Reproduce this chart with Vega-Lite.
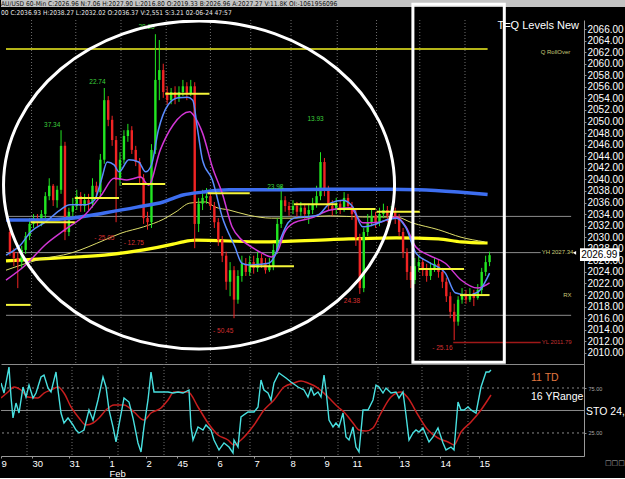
{
"$schema":"https://vega.github.io/schema/vega-lite/v6.json",
"background":"#000000",
"padding":0,
"autosize":{"type":"pad"},
"bounds":"flush",
"spacing":0,
"config":{"view":{"stroke":null},"axis":{"grid":false,"labelOverlap":false,"labelFont":"Liberation Sans","labelColor":"#ffffff","domainColor":"#8a8a8a","tickColor":"#8a8a8a"},"text":{"font":"Liberation Sans"}},
"datasets":{
"candles":[
{"t":1,"o":2030.9,"h":2031.6,"l":2026.8,"c":2027.4},
{"t":2,"o":2027.4,"h":2028.1,"l":2025.0,"c":2026.4},
{"t":3,"o":2026.4,"h":2027.4,"l":2021.2,"c":2025.7},
{"t":4,"o":2025.7,"h":2028.5,"l":2024.7,"c":2027.8},
{"t":5,"o":2027.8,"h":2030.9,"l":2027.1,"c":2030.2},
{"t":6,"o":2030.2,"h":2033.3,"l":2029.5,"c":2032.3},
{"t":7,"o":2032.3,"h":2034.0,"l":2031.6,"c":2033.3},
{"t":8,"o":2033.3,"h":2034.0,"l":2031.9,"c":2032.6},
{"t":9,"o":2032.6,"h":2034.7,"l":2031.9,"c":2034.0},
{"t":10,"o":2034.0,"h":2037.8,"l":2033.3,"c":2037.1},
{"t":11,"o":2037.1,"h":2040.2,"l":2036.4,"c":2038.9},
{"t":12,"o":2038.9,"h":2039.2,"l":2035.4,"c":2036.4},
{"t":13,"o":2036.4,"h":2038.9,"l":2035.1,"c":2038.2},
{"t":14,"o":2038.2,"h":2048.5,"l":2037.5,"c":2045.8},
{"t":15,"o":2045.8,"h":2046.5,"l":2029.5,"c":2030.9},
{"t":16,"o":2030.9,"h":2035.1,"l":2030.2,"c":2034.4},
{"t":17,"o":2034.4,"h":2036.8,"l":2033.3,"c":2035.4},
{"t":18,"o":2035.4,"h":2038.2,"l":2034.7,"c":2037.1},
{"t":19,"o":2037.1,"h":2037.8,"l":2034.4,"c":2035.4},
{"t":20,"o":2035.4,"h":2037.5,"l":2034.4,"c":2036.4},
{"t":21,"o":2036.4,"h":2037.5,"l":2034.7,"c":2035.8},
{"t":22,"o":2035.8,"h":2040.2,"l":2035.1,"c":2038.9},
{"t":23,"o":2038.9,"h":2039.6,"l":2036.8,"c":2037.8},
{"t":24,"o":2037.8,"h":2044.4,"l":2037.1,"c":2043.4},
{"t":25,"o":2043.4,"h":2055.8,"l":2042.7,"c":2053.7},
{"t":26,"o":2053.7,"h":2054.4,"l":2049.2,"c":2050.3},
{"t":27,"o":2050.3,"h":2051.0,"l":2045.8,"c":2046.8},
{"t":28,"o":2046.8,"h":2047.5,"l":2032.6,"c":2039.9},
{"t":29,"o":2039.9,"h":2044.7,"l":2038.9,"c":2043.4},
{"t":30,"o":2043.4,"h":2048.5,"l":2042.7,"c":2047.5},
{"t":31,"o":2047.5,"h":2049.6,"l":2046.5,"c":2048.5},
{"t":32,"o":2048.5,"h":2049.2,"l":2044.4,"c":2045.1},
{"t":33,"o":2045.1,"h":2045.8,"l":2042.3,"c":2043.0},
{"t":34,"o":2043.0,"h":2043.7,"l":2039.2,"c":2040.2},
{"t":35,"o":2040.2,"h":2040.9,"l":2032.3,"c":2033.3},
{"t":36,"o":2033.3,"h":2034.4,"l":2031.3,"c":2032.6},
{"t":37,"o":2032.6,"h":2046.1,"l":2031.6,"c":2045.1},
{"t":38,"o":2045.1,"h":2065.1,"l":2044.4,"c":2057.2},
{"t":39,"o":2057.2,"h":2064.1,"l":2053.7,"c":2058.9},
{"t":40,"o":2058.9,"h":2060.0,"l":2054.1,"c":2055.1},
{"t":41,"o":2055.1,"h":2056.1,"l":2053.0,"c":2053.7},
{"t":42,"o":2053.7,"h":2055.8,"l":2053.0,"c":2055.1},
{"t":43,"o":2055.1,"h":2056.1,"l":2053.0,"c":2054.1},
{"t":44,"o":2054.1,"h":2056.1,"l":2053.4,"c":2055.1},
{"t":45,"o":2055.1,"h":2057.2,"l":2054.4,"c":2056.1},
{"t":46,"o":2056.1,"h":2056.8,"l":2053.7,"c":2054.8},
{"t":47,"o":2054.8,"h":2057.2,"l":2054.4,"c":2056.1},
{"t":48,"o":2056.1,"h":2056.8,"l":2028.1,"c":2032.3},
{"t":49,"o":2032.3,"h":2036.8,"l":2030.9,"c":2035.8},
{"t":50,"o":2035.8,"h":2038.2,"l":2034.7,"c":2036.8},
{"t":51,"o":2036.8,"h":2038.5,"l":2035.8,"c":2037.1},
{"t":52,"o":2037.1,"h":2037.8,"l":2034.7,"c":2035.4},
{"t":53,"o":2035.4,"h":2036.1,"l":2031.6,"c":2032.6},
{"t":54,"o":2032.6,"h":2033.3,"l":2028.5,"c":2029.5},
{"t":55,"o":2029.5,"h":2030.2,"l":2025.7,"c":2026.8},
{"t":56,"o":2026.8,"h":2027.5,"l":2020.9,"c":2022.3},
{"t":57,"o":2022.3,"h":2025.7,"l":2019.8,"c":2024.3},
{"t":58,"o":2024.3,"h":2025.0,"l":2016.0,"c":2019.2},
{"t":59,"o":2019.2,"h":2024.3,"l":2018.5,"c":2023.3},
{"t":60,"o":2023.3,"h":2026.8,"l":2022.3,"c":2025.4},
{"t":61,"o":2025.4,"h":2026.4,"l":2023.3,"c":2024.0},
{"t":62,"o":2024.0,"h":2026.8,"l":2023.3,"c":2025.7},
{"t":63,"o":2025.7,"h":2026.8,"l":2023.7,"c":2024.7},
{"t":64,"o":2024.7,"h":2027.5,"l":2024.0,"c":2026.4},
{"t":65,"o":2026.4,"h":2027.1,"l":2024.7,"c":2025.4},
{"t":66,"o":2025.4,"h":2026.4,"l":2023.7,"c":2024.3},
{"t":67,"o":2024.3,"h":2026.4,"l":2024.0,"c":2025.0},
{"t":68,"o":2025.0,"h":2028.8,"l":2024.3,"c":2027.8},
{"t":69,"o":2027.8,"h":2033.3,"l":2027.1,"c":2032.3},
{"t":70,"o":2032.3,"h":2038.9,"l":2031.6,"c":2036.4},
{"t":71,"o":2036.4,"h":2037.1,"l":2034.4,"c":2035.4},
{"t":72,"o":2035.4,"h":2036.1,"l":2033.7,"c":2034.7},
{"t":73,"o":2034.7,"h":2036.4,"l":2034.0,"c":2035.4},
{"t":74,"o":2035.4,"h":2036.1,"l":2033.3,"c":2034.4},
{"t":75,"o":2034.4,"h":2036.1,"l":2033.7,"c":2035.1},
{"t":76,"o":2035.1,"h":2035.8,"l":2033.0,"c":2034.0},
{"t":77,"o":2034.0,"h":2035.8,"l":2032.3,"c":2034.7},
{"t":78,"o":2034.7,"h":2036.8,"l":2034.0,"c":2035.8},
{"t":79,"o":2035.8,"h":2038.9,"l":2035.1,"c":2037.1},
{"t":80,"o":2037.1,"h":2044.7,"l":2036.4,"c":2043.0},
{"t":81,"o":2043.0,"h":2043.7,"l":2037.1,"c":2038.2},
{"t":82,"o":2038.2,"h":2038.9,"l":2034.7,"c":2035.4},
{"t":83,"o":2035.4,"h":2036.4,"l":2033.7,"c":2034.7},
{"t":84,"o":2034.7,"h":2036.8,"l":2034.0,"c":2035.8},
{"t":85,"o":2035.8,"h":2036.4,"l":2034.0,"c":2034.7},
{"t":86,"o":2034.7,"h":2037.8,"l":2034.4,"c":2036.8},
{"t":87,"o":2036.8,"h":2037.5,"l":2034.7,"c":2035.4},
{"t":88,"o":2035.4,"h":2036.1,"l":2033.0,"c":2034.0},
{"t":89,"o":2034.0,"h":2034.7,"l":2028.5,"c":2029.9},
{"t":90,"o":2029.9,"h":2030.6,"l":2020.2,"c":2021.2},
{"t":91,"o":2021.2,"h":2031.6,"l":2020.5,"c":2030.9},
{"t":92,"o":2030.9,"h":2034.0,"l":2030.2,"c":2032.6},
{"t":93,"o":2032.6,"h":2034.7,"l":2031.9,"c":2033.7},
{"t":94,"o":2033.7,"h":2034.4,"l":2031.6,"c":2032.6},
{"t":95,"o":2032.6,"h":2035.1,"l":2031.9,"c":2034.0},
{"t":96,"o":2034.0,"h":2035.8,"l":2033.3,"c":2034.7},
{"t":97,"o":2034.7,"h":2035.4,"l":2032.6,"c":2033.7},
{"t":98,"o":2033.7,"h":2035.4,"l":2033.0,"c":2034.4},
{"t":99,"o":2034.4,"h":2035.1,"l":2032.3,"c":2033.3},
{"t":100,"o":2033.3,"h":2034.0,"l":2030.2,"c":2030.9},
{"t":101,"o":2030.9,"h":2031.6,"l":2026.4,"c":2027.4},
{"t":102,"o":2027.4,"h":2028.1,"l":2022.6,"c":2024.0},
{"t":103,"o":2024.0,"h":2025.0,"l":2021.2,"c":2022.6},
{"t":104,"o":2022.6,"h":2026.4,"l":2021.9,"c":2025.0},
{"t":105,"o":2025.0,"h":2026.8,"l":2024.0,"c":2025.7},
{"t":106,"o":2025.7,"h":2026.4,"l":2023.3,"c":2024.3},
{"t":107,"o":2024.3,"h":2025.4,"l":2022.3,"c":2023.3},
{"t":108,"o":2023.3,"h":2025.7,"l":2022.6,"c":2024.7},
{"t":109,"o":2024.7,"h":2026.4,"l":2024.0,"c":2025.4},
{"t":110,"o":2025.4,"h":2026.1,"l":2023.0,"c":2024.0},
{"t":111,"o":2024.0,"h":2024.7,"l":2021.2,"c":2022.3},
{"t":112,"o":2022.3,"h":2023.0,"l":2018.8,"c":2019.8},
{"t":113,"o":2019.8,"h":2020.5,"l":2016.0,"c":2017.1},
{"t":114,"o":2017.1,"h":2018.5,"l":2012.2,"c":2015.4},
{"t":115,"o":2015.4,"h":2019.8,"l":2014.7,"c":2019.2},
{"t":116,"o":2019.2,"h":2021.2,"l":2018.5,"c":2020.2},
{"t":117,"o":2020.2,"h":2020.9,"l":2018.5,"c":2019.2},
{"t":118,"o":2019.2,"h":2021.2,"l":2018.8,"c":2020.2},
{"t":119,"o":2020.2,"h":2020.9,"l":2018.1,"c":2019.5},
{"t":120,"o":2019.5,"h":2021.9,"l":2019.2,"c":2020.9},
{"t":121,"o":2020.9,"h":2024.7,"l":2020.2,"c":2024.0},
{"t":122,"o":2024.0,"h":2026.8,"l":2023.3,"c":2025.7},
{"t":123,"o":2025.7,"h":2027.5,"l":2025.0,"c":2026.9}
],
"thickblue":[{"t":0,"v":2033.0},{"t":8.3,"v":2033.0},{"t":16.7,"v":2033.3},{"t":25,"v":2034.2},{"t":33.3,"v":2035.2},{"t":40,"v":2036.1},{"t":45,"v":2037.3},{"t":50,"v":2037.8},{"t":56.75,"v":2038.2},{"t":67.5,"v":2038.2},{"t":82.5,"v":2038.3},{"t":97.5,"v":2038.3},{"t":105,"v":2038.2},{"t":115,"v":2037.8},{"t":122.5,"v":2037.4}],
"thickyellow":[{"t":0,"v":2025.9},{"t":12.5,"v":2026.4},{"t":25,"v":2026.9},{"t":35,"v":2027.8},{"t":42.5,"v":2028.8},{"t":45,"v":2029.2},{"t":48.25,"v":2029.5},{"t":65,"v":2029.2},{"t":82.5,"v":2029.6},{"t":99.25,"v":2029.9},{"t":110,"v":2029.7},{"t":115.75,"v":2029.2},{"t":122.5,"v":2029.0}],
"paleyellow":[{"t":0,"v":2024.3},{"t":8.25,"v":2026.1},{"t":16.75,"v":2027.3},{"t":25,"v":2029.5},{"t":29.25,"v":2030.7},{"t":35,"v":2031.8},{"t":40,"v":2033.1},{"t":43.25,"v":2034.4},{"t":46.75,"v":2035.9},{"t":50.75,"v":2036.1},{"t":53.25,"v":2035.2},{"t":56.75,"v":2034.7},{"t":61.75,"v":2033.8},{"t":67.5,"v":2033.3},{"t":72.5,"v":2033.3},{"t":82.5,"v":2033.7},{"t":90.75,"v":2033.5},{"t":99.25,"v":2033.5},{"t":103.25,"v":2032.5},{"t":110,"v":2031.3},{"t":115.75,"v":2030.0},{"t":121.75,"v":2029.2}],
"thinblue":[{"t":0,"v":2026.9},{"t":3.75,"v":2028.7},{"t":6.25,"v":2030.9},{"t":10,"v":2032.6},{"t":13.75,"v":2034.7},{"t":16.25,"v":2035.6},{"t":20,"v":2035.6},{"t":22.5,"v":2036.4},{"t":24.25,"v":2039.9},{"t":25.75,"v":2043.0},{"t":27.5,"v":2042.5},{"t":28.75,"v":2041.3},{"t":31.25,"v":2043.4},{"t":33.75,"v":2043.0},{"t":35.5,"v":2041.3},{"t":37,"v":2042.5},{"t":38.75,"v":2048.5},{"t":41.25,"v":2052.9},{"t":43.75,"v":2054.1},{"t":46.25,"v":2054.2},{"t":47.5,"v":2053.7},{"t":48.75,"v":2048.5},{"t":50,"v":2043.3},{"t":52.5,"v":2039.9},{"t":55,"v":2033.5},{"t":58.25,"v":2028.3},{"t":60,"v":2025.5},{"t":61.75,"v":2025.2},{"t":66.75,"v":2025.5},{"t":68.25,"v":2026.6},{"t":70,"v":2030.0},{"t":71.75,"v":2032.5},{"t":73.25,"v":2033.3},{"t":79.25,"v":2033.8},{"t":82.5,"v":2035.9},{"t":85.75,"v":2036.4},{"t":88.25,"v":2035.2},{"t":90.75,"v":2031.8},{"t":93.25,"v":2032.1},{"t":96.75,"v":2033.0},{"t":99.25,"v":2033.3},{"t":101.75,"v":2031.6},{"t":104.25,"v":2027.3},{"t":107.5,"v":2025.7},{"t":111.75,"v":2023.8},{"t":114.25,"v":2020.4},{"t":117.5,"v":2020.0},{"t":120,"v":2020.5},{"t":123,"v":2023.8}],
"magenta":[{"t":0,"v":2022.6},{"t":5,"v":2025.2},{"t":10,"v":2028.7},{"t":15,"v":2031.3},{"t":20,"v":2033.8},{"t":24.25,"v":2037.3},{"t":27.5,"v":2040.2},{"t":30.75,"v":2039.9},{"t":34.25,"v":2040.4},{"t":36.25,"v":2039.0},{"t":39.25,"v":2045.1},{"t":42.5,"v":2049.4},{"t":46.75,"v":2051.7},{"t":48,"v":2050.8},{"t":50,"v":2048.0},{"t":52.5,"v":2042.1},{"t":55,"v":2037.6},{"t":57.5,"v":2031.8},{"t":60,"v":2029.5},{"t":62.5,"v":2028.3},{"t":65,"v":2027.3},{"t":67.5,"v":2026.6},{"t":69.25,"v":2027.8},{"t":70.75,"v":2030.7},{"t":73.25,"v":2032.5},{"t":77.5,"v":2033.3},{"t":82.5,"v":2034.7},{"t":87.5,"v":2035.1},{"t":90.75,"v":2032.5},{"t":95,"v":2032.6},{"t":99.25,"v":2033.5},{"t":101.75,"v":2031.8},{"t":104.25,"v":2028.3},{"t":107.5,"v":2026.9},{"t":111.75,"v":2025.5},{"t":115.75,"v":2022.6},{"t":120,"v":2021.2},{"t":123,"v":2022.1}],
"grid":[{"t":6.5},{"t":17.75},{"t":29.25},{"t":40.75},{"t":52},{"t":62.25},{"t":72.5},{"t":84.25},{"t":94.25},{"t":105.25},{"t":116.75}],
"levels":[{"t1":0,"t2":143.75,"p":2033.6},{"t1":0,"t2":136,"p":2027.34},{"t1":0,"t2":143.75,"p":2016.5}],
"keylev":[{"t1":0,"t2":122.5,"p":2062.54,"k":"q"},{"t1":113.75,"t2":136,"p":2011.79,"k":"yl"}],
"pivots":[{"t1":0,"t2":6.25,"p":2018.3},{"t1":6.25,"t2":17.5,"p":2032.6},{"t1":17.5,"t2":28.75,"p":2036.8},{"t1":29.5,"t2":40.5,"p":2039.2},{"t1":40.5,"t2":51.75,"p":2054.8},{"t1":51.25,"t2":62,"p":2037.6},{"t1":62,"t2":73.25,"p":2025.0},{"t1":73.25,"t2":84.25,"p":2035.7},{"t1":84.25,"t2":94,"p":2034.9},{"t1":94.25,"t2":105.25,"p":2034.4},{"t1":105,"t2":116.5,"p":2024.5},{"t1":115.5,"t2":123,"p":2020.0}],
"gnotes":[{"t":11.75,"p":2049.4,"txt":"37.34"},{"t":23.25,"p":2056.8,"txt":"22.74"},{"t":35.75,"p":2066.3,"txt":"28.25"},{"t":68.5,"p":2038.7,"txt":"23.98"},{"t":78.75,"p":2050.4,"txt":"13.93"}],
"rnotes":[{"t":25,"p":2029.9,"txt":"- 25.05"},{"t":32.5,"p":2029.0,"txt":"- 12.75"},{"t":55.25,"p":2013.8,"txt":"- 50.45"},{"t":88,"p":2019.0,"txt":"24.38"},{"t":111,"p":2010.9,"txt":"- 25.16"}],
"rlabels":[{"t":136,"p":2062.0,"txt":"Q RollOver","k":"y"},{"t":136.25,"p":2027.45,"txt":"YH 2027.34","k":"y"},{"t":141.75,"p":2020.0,"txt":"RX","k":"y"},{"t":136.25,"p":2011.9,"txt":"YL 2011.79","k":"r"}],
"cyan":[{"t":0,"v":80.6},{"t":0.75,"v":69.4},{"t":2,"v":98.3},{"t":2.5,"v":65},{"t":3,"v":41.7},{"t":3.75,"v":58.3},{"t":4.5,"v":47.2},{"t":5.5,"v":76.1},{"t":6.25,"v":65},{"t":7,"v":78.3},{"t":8,"v":63.9},{"t":8.75,"v":69.4},{"t":10,"v":87.2},{"t":10.75,"v":89.4},{"t":11.75,"v":75},{"t":12.5,"v":70.6},{"t":13.75,"v":92.8},{"t":14.25,"v":72.8},{"t":15,"v":47.2},{"t":15.75,"v":36.1},{"t":16.75,"v":41.7},{"t":18,"v":33.9},{"t":18.75,"v":28.3},{"t":19.5,"v":25},{"t":20.75,"v":28.3},{"t":22,"v":50.6},{"t":23,"v":39.4},{"t":24.25,"v":61.7},{"t":25.5,"v":87.2},{"t":26.25,"v":76.1},{"t":27,"v":50.6},{"t":28,"v":31.7},{"t":28.75,"v":15},{"t":29.5,"v":33.9},{"t":30.75,"v":63.9},{"t":32,"v":59.4},{"t":33,"v":41.7},{"t":34.25,"v":13.9},{"t":35,"v":3.9},{"t":35.75,"v":31.7},{"t":36.75,"v":61.7},{"t":37.5,"v":92.8},{"t":38.25,"v":70.6},{"t":40,"v":70.6},{"t":41.75,"v":70.6},{"t":43,"v":69.4},{"t":44.25,"v":70.6},{"t":45.5,"v":69.4},{"t":47,"v":72.8},{"t":47.5,"v":31.7},{"t":48,"v":17.2},{"t":49.25,"v":31.7},{"t":50.5,"v":28.3},{"t":51.25,"v":33.9},{"t":52.5,"v":28.3},{"t":53.25,"v":17.2},{"t":54.5,"v":6.1},{"t":55.75,"v":13.9},{"t":57,"v":9.4},{"t":58,"v":2.8},{"t":58.25,"v":17.2},{"t":59.25,"v":9.4},{"t":60,"v":42.8},{"t":61.75,"v":48.3},{"t":63.25,"v":48.3},{"t":64.25,"v":53.9},{"t":65,"v":83.9},{"t":65.75,"v":72.8},{"t":66.75,"v":69.4},{"t":67.5,"v":61.7},{"t":68.25,"v":80.6},{"t":69.5,"v":91.7},{"t":71.25,"v":86.1},{"t":72.5,"v":81.7},{"t":74.25,"v":76.1},{"t":75.75,"v":72.8},{"t":76.75,"v":65},{"t":77.5,"v":75},{"t":78.25,"v":67.2},{"t":79.25,"v":70.6},{"t":80,"v":65},{"t":80.75,"v":89.4},{"t":81.25,"v":72.8},{"t":82,"v":39.4},{"t":83,"v":31.7},{"t":83.75,"v":36.1},{"t":84.5,"v":31.7},{"t":85.5,"v":47.2},{"t":86.25,"v":20.6},{"t":87,"v":17.2},{"t":88,"v":31.7},{"t":88.75,"v":9.4},{"t":89.5,"v":3.9},{"t":90.5,"v":50.6},{"t":91.75,"v":50.6},{"t":93,"v":61.7},{"t":93.75,"v":78.3},{"t":94.5,"v":76.1},{"t":95.5,"v":69.4},{"t":96.25,"v":75},{"t":97.5,"v":69.4},{"t":98.75,"v":70.6},{"t":99.5,"v":63.9},{"t":100.5,"v":70.6},{"t":101.25,"v":45},{"t":102,"v":17.2},{"t":103,"v":25},{"t":103.75,"v":28.3},{"t":104.5,"v":26.1},{"t":105.5,"v":30.6},{"t":106.25,"v":22.8},{"t":107,"v":15},{"t":108,"v":20.6},{"t":109.25,"v":30.6},{"t":110.5,"v":13.9},{"t":111.25,"v":6.1},{"t":112.5,"v":9.4},{"t":113.25,"v":6.1},{"t":114.25,"v":59.4},{"t":115,"v":50.6},{"t":115.75,"v":50.6},{"t":116.75,"v":53.9},{"t":117.5,"v":50.6},{"t":118.75,"v":47.2},{"t":120,"v":76.1},{"t":121.25,"v":92.8},{"t":122,"v":92.8},{"t":122.5,"v":95}],
"slow":[{"t":0,"v":63.9},{"t":1.75,"v":70.6},{"t":3.25,"v":76.1},{"t":5,"v":72.8},{"t":6.75,"v":65},{"t":9.25,"v":63.9},{"t":10.75,"v":69.4},{"t":12.5,"v":72.8},{"t":14.25,"v":76.1},{"t":15.75,"v":69.4},{"t":17.5,"v":53.9},{"t":19.5,"v":41.7},{"t":21.25,"v":33.9},{"t":23,"v":36.1},{"t":24.5,"v":41.7},{"t":26.25,"v":50.6},{"t":28.25,"v":56.1},{"t":30.75,"v":56.1},{"t":33.25,"v":48.3},{"t":35.75,"v":39.4},{"t":37.5,"v":47.2},{"t":40,"v":52.8},{"t":41.75,"v":61.7},{"t":43.25,"v":70.6},{"t":46.75,"v":70.6},{"t":49.25,"v":53.9},{"t":51.75,"v":36.1},{"t":54.25,"v":22.8},{"t":56.75,"v":17.2},{"t":58.25,"v":11.7},{"t":60,"v":17.2},{"t":63.25,"v":33.9},{"t":65.75,"v":50.6},{"t":68.25,"v":61.7},{"t":70.75,"v":76.1},{"t":73.25,"v":80.6},{"t":75,"v":82.8},{"t":76.75,"v":80.6},{"t":79.25,"v":75},{"t":81.75,"v":65},{"t":84.25,"v":53.9},{"t":85.75,"v":48.3},{"t":88,"v":36.1},{"t":89.5,"v":28.3},{"t":91.25,"v":27.2},{"t":93,"v":30.6},{"t":95,"v":47.2},{"t":97.5,"v":65},{"t":100,"v":70.6},{"t":101.75,"v":63.9},{"t":104.25,"v":45},{"t":106.75,"v":28.3},{"t":109.25,"v":19.4},{"t":111.75,"v":15},{"t":113.25,"v":11.7},{"t":115,"v":26.1},{"t":117.5,"v":37.2},{"t":120,"v":50.6},{"t":122.5,"v":67.2}],
"stotxt":[{"t":132.5,"v":86,"txt":"11 TD","k":"o"},{"t":132.5,"v":65,"txt":"16 YRange","k":"w"},{"t":146.25,"v":48.3,"txt":"STO 24,","k":"w"}]
},
"vconcat":[
{
"width":625,"height":20,
"data":{"values":[{"row":0.42,"txt":"AU/USD 60-Min C:2026.96 N:7.06 H:2027.90 L:2016.80 O:2019.33 B:2026.96 A:2027.27 V:11.8K OI:-1061956096"},{"row":1.5,"txt":"00 C:2036.93 H:2038.27 L:2032.02 O:2036.37 V:2,551 S:3.21 02-06-24 47:57"}]},
"layer":[
{"mark":{"type":"rect","color":"#c4c4c4"},
 "encoding":{"x":{"datum":0,"type":"quantitative","scale":{"domain":[0,100],"nice":false},"axis":null},"x2":{"datum":100},"y":{"datum":0,"type":"quantitative","scale":{"domain":[0,2.25],"reverse":true,"nice":false},"axis":null},"y2":{"datum":0.8}}},
{"mark":{"type":"text","align":"left","baseline":"middle","font":"Liberation Sans Narrow, DejaVu Sans Condensed, Liberation Sans","fontSize":6.6,"dx":0},
 "encoding":{"x":{"datum":0,"type":"quantitative","axis":null},"y":{"field":"row","type":"quantitative","axis":null},"text":{"field":"txt"},
  "color":{"condition":{"test":"datum.row < 1","value":"#101010"},"value":"#e8e8e8"}}}
]
},
{
"width":583,"height":344,
"layer":[
{"data":{"name":"grid"},"mark":{"type":"rule","color":"#6e6e6e","strokeDash":[1,2]},
 "encoding":{"x":{"field":"t","type":"quantitative","scale":{"domain":[0,145.75],"nice":false,"zero":false},"axis":{"orient":"bottom","labels":false,"ticks":false,"title":null,"domainColor":"#8a8a8a"}}}},
{"data":{"name":"levels"},"mark":{"type":"rule","color":"#8c8c8c","strokeWidth":1,"clip":true},
 "encoding":{"x":{"field":"t1","type":"quantitative","scale":{"domain":[0,145.75],"nice":false,"zero":false}},"x2":{"field":"t2"},
  "y":{"field":"p","type":"quantitative","scale":{"domain":[2008.08,2067.56],"nice":false,"zero":false},
   "axis":{"orient":"right","values":[2010,2012,2014,2016,2018,2020,2022,2024,2026,2028,2030,2032,2034,2036,2038,2040,2042,2044,2046,2048,2050,2052,2054,2056,2058,2060,2062,2064,2066],"tickCount":100,"format":".2f","labelFontSize":10,"tickSize":2,"labelPadding":1,"title":null,"domainColor":"#9a9a9a","labelOverlap":false,"labelFlush":false,"labelBound":false}}}},
{"data":{"name":"keylev"},"mark":{"type":"rule","strokeWidth":1.5,"clip":true},
 "encoding":{"x":{"field":"t1","type":"quantitative"},"x2":{"field":"t2"},"y":{"field":"p","type":"quantitative"},
  "color":{"condition":{"test":"datum.k == 'q'","value":"#f0f020"},"value":"#a01818"}}},
{"data":{"name":"thickyellow"},"mark":{"type":"line","color":"#ffff1a","strokeWidth":3.2,"interpolate":"monotone","clip":true},
 "encoding":{"x":{"field":"t","type":"quantitative"},"y":{"field":"v","type":"quantitative"}}},
{"data":{"name":"paleyellow"},"mark":{"type":"line","color":"#dede6a","strokeWidth":1,"interpolate":"monotone","clip":true},
 "encoding":{"x":{"field":"t","type":"quantitative"},"y":{"field":"v","type":"quantitative"}}},
{"data":{"name":"candles"},"mark":{"type":"rule","strokeWidth":1,"clip":true},
 "encoding":{"x":{"field":"t","type":"quantitative"},"y":{"field":"l","type":"quantitative"},"y2":{"field":"h"},
  "color":{"condition":{"test":"datum.c >= datum.o","value":"#22e622"},"value":"#f02424"}}},
{"data":{"name":"candles"},"mark":{"type":"bar","width":2.4,"clip":true},
 "encoding":{"x":{"field":"t","type":"quantitative"},"y":{"field":"o","type":"quantitative"},"y2":{"field":"c"},
  "color":{"condition":{"test":"datum.c >= datum.o","value":"#22e622"},"value":"#f02424"}}},
{"data":{"name":"thickblue"},"mark":{"type":"line","color":"#3d6ef0","strokeWidth":3.5,"interpolate":"monotone","clip":true},
 "encoding":{"x":{"field":"t","type":"quantitative"},"y":{"field":"v","type":"quantitative"}}},
{"data":{"name":"magenta"},"mark":{"type":"line","color":"#d236d6","strokeWidth":1.5,"interpolate":"monotone","clip":true},
 "encoding":{"x":{"field":"t","type":"quantitative"},"y":{"field":"v","type":"quantitative"}}},
{"data":{"name":"thinblue"},"mark":{"type":"line","color":"#5a8cff","strokeWidth":1.5,"interpolate":"monotone","clip":true},
 "encoding":{"x":{"field":"t","type":"quantitative"},"y":{"field":"v","type":"quantitative"}}},
{"data":{"name":"pivots"},"mark":{"type":"rule","color":"#f5f53a","strokeWidth":2,"clip":true},
 "encoding":{"x":{"field":"t1","type":"quantitative"},"x2":{"field":"t2"},"y":{"field":"p","type":"quantitative"}}},
{"data":{"name":"gnotes"},"mark":{"type":"text","color":"#3ccf3c","fontSize":6.5,"align":"center","baseline":"middle"},
 "encoding":{"x":{"field":"t","type":"quantitative"},"y":{"field":"p","type":"quantitative"},"text":{"field":"txt"}}},
{"data":{"name":"rnotes"},"mark":{"type":"text","color":"#d83030","fontSize":6.5,"align":"center","baseline":"middle"},
 "encoding":{"x":{"field":"t","type":"quantitative"},"y":{"field":"p","type":"quantitative"},"text":{"field":"txt"}}},
{"data":{"name":"rlabels"},"mark":{"type":"text","fontSize":6,"align":"left","baseline":"middle"},
 "encoding":{"x":{"field":"t","type":"quantitative"},"y":{"field":"p","type":"quantitative"},"text":{"field":"txt"},
  "color":{"condition":{"test":"datum.k == 'r'","value":"#c03030"},"value":"#c8c878"}}},
{"data":{"values":[{"t":125,"p":2066.5,"txt":"T=Q Levels New"}]},"mark":{"type":"text","color":"#ffffff","fontSize":11,"align":"left","baseline":"middle"},
 "encoding":{"x":{"field":"t","type":"quantitative"},"y":{"field":"p","type":"quantitative"},"text":{"field":"txt"}}},
{"data":{"values":[{"t":49.1,"p":2039.03}]},"mark":{"type":"point","shape":"M1,0C1,0.4634,0.5523,0.839,0,0.839C-0.5523,0.839,-1,0.4634,-1,0C-1,-0.4634,-0.5523,-0.839,0,-0.839C0.5523,-0.839,1,-0.4634,1,0Z","size":152881,"filled":false,"stroke":"#ffffff","strokeWidth":3,"opacity":1,"clip":true},
 "encoding":{"x":{"field":"t","type":"quantitative"},"y":{"field":"p","type":"quantitative"}}},
{"data":{"values":[{"t1":103.5,"t2":126.75,"p1":2070.3,"p2":2008.4}]},"mark":{"type":"rect","fillOpacity":0,"stroke":"#ffffff","strokeWidth":3},
 "encoding":{"x":{"field":"t1","type":"quantitative"},"x2":{"field":"t2"},"y":{"field":"p1","type":"quantitative"},"y2":{"field":"p2"}}},
{"data":{"values":[{"t1":146,"t2":156,"p1":2025.9,"p2":2028.1}]},"mark":{"type":"rect","color":"#ffffff"},
 "encoding":{"x":{"field":"t1","type":"quantitative"},"x2":{"field":"t2"},"y":{"field":"p1","type":"quantitative"},"y2":{"field":"p2"}}},
{"data":{"values":[{"t":146.3,"p":2026.99,"txt":"2026.99"}]},"mark":{"type":"text","color":"#000000","fontSize":10,"align":"left","baseline":"middle"},
 "encoding":{"x":{"field":"t","type":"quantitative"},"y":{"field":"p","type":"quantitative"},"text":{"field":"txt"}}},
{"data":{"values":[{"t":144.6,"p":2027.3}]},"mark":{"type":"point","shape":"triangle-left","size":14,"filled":true,"color":"#ffffff","opacity":1},
 "encoding":{"x":{"field":"t","type":"quantitative"},"y":{"field":"p","type":"quantitative"}}}
]
},
{
"width":583,"height":92,
"layer":[
{"data":{"name":"grid"},"mark":{"type":"rule","color":"#6e6e6e","strokeDash":[1,2]},
 "encoding":{"x":{"field":"t","type":"quantitative","scale":{"domain":[0,145.75],"nice":false,"zero":false},
  "axis":{"orient":"bottom","values":[0,7.75,17,27,36.25,44,54,63.25,72.25,80.75,87.75,99.5,109.75,119.5],"tickCount":100,
   "labelExpr":"['9','30','31',['1','Feb'],'2','45','6','7','8','9','11','13','14','15'][indexof([0,7.75,17,27,36.25,44,54,63.25,72.25,80.75,87.75,99.5,109.75,119.5], datum.value)]",
   "labelAlign":"left","labelBaseline":"top","labelFontSize":9.5,"labelLineHeight":10,"labelPadding":0,"tickSize":2,"title":null,"labelFlush":false,"labelOverlap":false,"domainColor":"#9a9a9a","tickColor":"#9a9a9a"}}}},
{"data":{"values":[{"v":25},{"v":75}]},"mark":{"type":"rule","color":"#8a8a8a","strokeDash":[2,3],"clip":true},
 "encoding":{"y":{"field":"v","type":"quantitative","scale":{"domain":[-0.6,101.7],"nice":false,"zero":false},
  "axis":{"orient":"right","values":[25,75],"format":".2f","labelFontSize":5.5,"labelColor":"#a8a8a8","tickSize":2,"labelPadding":2,"title":null,"domainColor":"#9a9a9a"}}}},
{"data":{"values":[{"v":50}]},"mark":{"type":"rule","color":"#8a8a8a","strokeWidth":1,"clip":true},
 "encoding":{"y":{"field":"v","type":"quantitative"}}},
{"data":{"name":"slow"},"mark":{"type":"line","color":"#c81e1e","strokeWidth":1.5,"interpolate":"monotone","clip":true},
 "encoding":{"x":{"field":"t","type":"quantitative"},"y":{"field":"v","type":"quantitative"}}},
{"data":{"name":"cyan"},"mark":{"type":"line","color":"#48e0e0","strokeWidth":1.4,"clip":true},
 "encoding":{"x":{"field":"t","type":"quantitative"},"y":{"field":"v","type":"quantitative"}}},
{"data":{"name":"stotxt"},"mark":{"type":"text","fontSize":10.5,"align":"left","baseline":"middle"},
 "encoding":{"x":{"field":"t","type":"quantitative"},"y":{"field":"v","type":"quantitative"},"text":{"field":"txt"},
  "color":{"condition":{"test":"datum.k == 'o'","value":"#e07840"},"value":"#ffffff"}}},
{"data":{"values":[{"t":151,"v":-8.5,"txt":"□□□"}]},"mark":{"type":"text","font":"DejaVu Sans","fontSize":7,"color":"#b0b0b0","align":"left","baseline":"middle"},
 "encoding":{"x":{"field":"t","type":"quantitative"},"y":{"field":"v","type":"quantitative"},"text":{"field":"txt"}}}
]
}
]
}
